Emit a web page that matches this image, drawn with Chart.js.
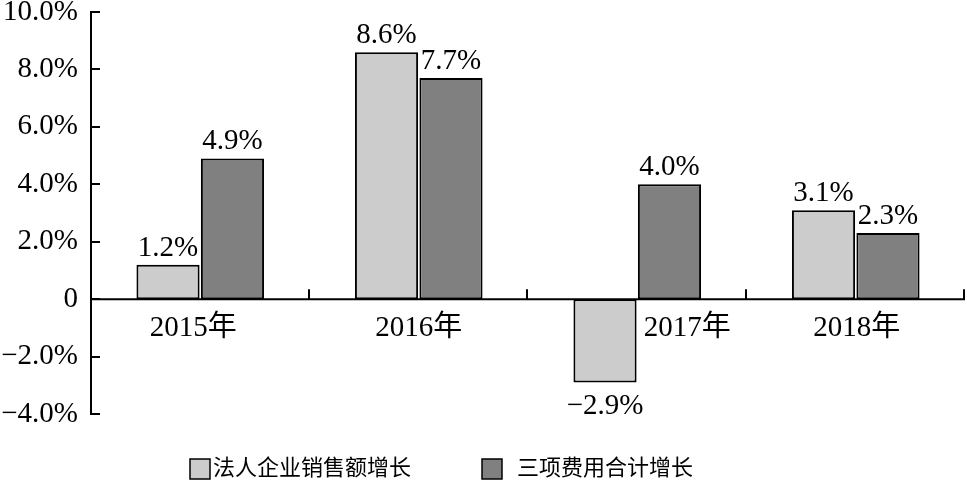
<!DOCTYPE html>
<html>
<head>
<meta charset="utf-8">
<script src="https://cdn.jsdelivr.net/npm/chart.js@4/dist/chart.umd.min.js"></script>
<style>
  html, body { margin: 0; padding: 0; background: #fff; }
  #wrap { width: 967px; height: 484px; position: relative; }
</style>
</head>
<body>
<div id="wrap"><canvas id="c"></canvas></div>
<script>
"use strict";

// ── data ─────────────────────────────────
const categories  = ["2015年", "2016年", "2017年", "2018年"];
const salesGrowth = [1.2, 8.6, -2.9, 3.1];   // 法人企业销售额增长
const costGrowth  = [4.9, 7.7, 4.0, 2.3];    // 三项费用合计增长
const seriesNames = ["法人企业销售额增长", "三项费用合计增长"];
const yTicks      = [-4, -2, 0, 2, 4, 6, 8, 10];

const SERIF = '"Liberation Serif", "Times New Roman", serif';
const CJK   = '"Liberation Serif", "Noto Sans CJK SC", sans-serif';
const COLORS = ["#cccccc", "#808080"];

function pct(v) {
  if (v === 0) return "0";
  return (v < 0 ? "\u2212" : "") + Math.abs(v).toFixed(1) + "%";
}

// ── axes, labels, legend drawn on top ────
const decor = {
  id: "decor",
  afterDatasetsDraw(chart) {
    const ctx = chart.ctx;
    const x = chart.scales.x, y = chart.scales.y;
    const area = chart.chartArea;
    const y0 = y.getPixelForValue(0);

    ctx.save();
    ctx.strokeStyle = "#000";
    ctx.lineWidth = 2;

    // inward y ticks
    yTicks.forEach((v) => {
      const py = Math.round(y.getPixelForValue(v));
      ctx.beginPath();
      ctx.moveTo(area.left, py);
      ctx.lineTo(area.left + 9, py);
      ctx.stroke();
    });

    // zero line
    ctx.beginPath();
    ctx.moveTo(area.left, y0);
    ctx.lineTo(area.right, y0);
    ctx.stroke();

    // category boundary ticks
    const step = (area.right - area.left) / categories.length;
    for (let i = 1; i <= categories.length; i++) {
      const px = Math.round(area.left + step * i) - 1;
      ctx.beginPath();
      ctx.moveTo(px, y0);
      ctx.lineTo(px, y0 - 10);
      ctx.stroke();
    }

    // data labels
    ctx.fillStyle = "#000";
    ctx.font = "29px " + SERIF;
    ctx.textAlign = "center";
    ctx.textBaseline = "alphabetic";
    chart.data.datasets.forEach((ds, di) => {
      chart.getDatasetMeta(di).data.forEach((bar, i) => {
        const v = ds.data[i];
        const ty = v >= 0 ? bar.y - 9 : bar.y + 32;
        ctx.fillText(pct(v), bar.x, ty);
      });
    });

    // category labels (2017 moved right of the negative bar)
    const shift = [-7, 0, 50, 1];
    ctx.font = "29px " + CJK;
    ctx.textBaseline = "middle";
    categories.forEach((c, i) => {
      ctx.fillText(c, x.getPixelForValue(i) + shift[i], 328);
    });

    // legend
    const legendX = [[190, 213], [482, 517]];
    ctx.font = "22px " + CJK;
    ctx.textAlign = "left";
    ctx.lineWidth = 1.5;
    seriesNames.forEach((name, i) => {
      const [bx, tx] = legendX[i];
      ctx.fillStyle = COLORS[i];
      ctx.fillRect(bx, 459, 20, 20);
      ctx.strokeRect(bx, 459, 20, 20);
      ctx.fillStyle = "#000";
      ctx.fillText(name, tx, 469);
    });
    ctx.restore();
  }
};

new Chart(document.getElementById("c"), {
  type: "bar",
  data: {
    labels: categories,
    datasets: [
      { label: seriesNames[0], data: salesGrowth, backgroundColor: COLORS[0] },
      { label: seriesNames[1], data: costGrowth,  backgroundColor: COLORS[1] },
    ],
  },
  options: {
    responsive: true,
    maintainAspectRatio: false,
    animation: false,
    devicePixelRatio: 1,
    layout: { padding: { left: 0, right: 2, top: 12, bottom: 70 } },
    datasets: {
      bar: {
        borderColor: "#000",
        borderWidth: 2,
        borderSkipped: false,
        categoryPercentage: 0.59,
        barPercentage: 0.98,
      },
    },
    plugins: { legend: { display: false }, tooltip: { enabled: false } },
    scales: {
      x: { display: false },
      y: {
        min: -4,
        max: 10,
        afterBuildTicks: (s) => { s.ticks = yTicks.map((v) => ({ value: v })); },
        afterFit: (s) => { s.width = 91; s.paddingTop = 0; s.paddingBottom = 0; },
        border: { display: true, color: "#000", width: 2 },
        grid: { display: false, drawTicks: false },
        ticks: {
          padding: 13,
          color: "#000",
          font: { family: SERIF, size: 29 },
          callback: (v) => pct(v),
        },
      },
    },
  },
  plugins: [decor],
});
</script>
</body>
</html>
